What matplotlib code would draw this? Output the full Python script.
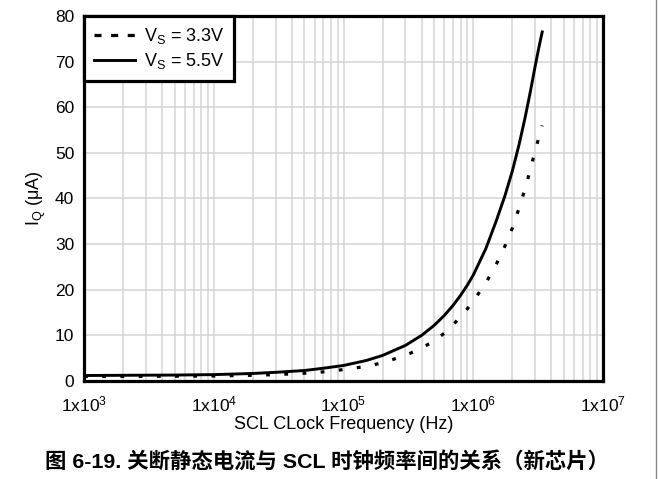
#!/usr/bin/env python3
"""Quiescent current vs SCL clock frequency (Fig 6-19)."""
import matplotlib
matplotlib.use("Agg")
import matplotlib.pyplot as plt
import matplotlib.ticker as ticker
from matplotlib.lines import Line2D

plt.rcParams["font.family"] = ["Liberation Sans", "Noto Sans CJK SC"]
plt.rcParams["mathtext.fontset"] = "custom"
plt.rcParams["mathtext.rm"] = "Liberation Sans"
plt.rcParams["mathtext.it"] = "Liberation Sans:italic"

# values
freq_hz = [1e3, 2e3, 5e3, 1e4, 2e4, 3e4, 5e4, 7e4, 1e5, 1.5e5, 2e5,
           3e5, 4e5, 5e5, 6e5, 7e5, 8e5, 9e5, 1e6, 1.25e6, 1.5e6,
           1.75e6, 2e6, 2.25e6, 2.5e6, 2.75e6, 3e6, 3.2e6, 3.4e6]
iq_5v5 = [1.2, 1.25, 1.3, 1.4, 1.65, 1.9, 2.3, 2.8, 3.4, 4.5, 5.6,
          7.8, 10.0, 12.2, 14.4, 16.6, 18.8, 21.0, 23.2, 29.0, 35.0,
          40.5, 46.0, 51.7, 57.5, 63.3, 69.0, 73.0, 76.5]
iq_3v3 = [1.0, 1.0, 1.05, 1.1, 1.25, 1.4, 1.7, 2.0, 2.5, 3.2, 4.0,
          5.6, 7.2, 8.8, 10.5, 12.3, 14.2, 15.8, 17.5, 21.5, 25.5,
          29.5, 33.5, 37.8, 42.0, 46.2, 50.5, 53.3, 56.0]

x_ticks = [1e3, 1e4, 1e5, 1e6, 1e7]
x_tick_labels = [r"1x10$^{3}$", r"1x10$^{4}$", r"1x10$^{5}$",
                 r"1x10$^{6}$", r"1x10$^{7}$"]
y_ticks = list(range(0, 81, 10))

label_3v3 = r"V$_{\mathrm{S}}$ = 3.3V"
label_5v5 = r"V$_{\mathrm{S}}$ = 5.5V"
caption = "图 6-19. 关断静态电流与 SCL 时钟频率间的关系（新芯片）"

fig = plt.figure(figsize=(6.58, 4.79), dpi=100)
ax = fig.add_axes([0.1277, 0.2046, 0.7887, 0.762])

grid_kw = dict(color="#d4d4d4", linewidth=1.1)
ax.plot(freq_hz, iq_3v3, color="black", linewidth=2.3,
        linestyle=(0, (1.2, 4.5)), zorder=3)
ax.plot(freq_hz, iq_5v5, color="black", linewidth=2.1, zorder=3)

ax.set_xscale("log")
ax.set_xlim(1e3, 1e7)
ax.set_ylim(0, 80)
ax.set_xticks(x_ticks)
ax.xaxis.set_major_formatter(ticker.FixedFormatter(x_tick_labels))
ax.xaxis.set_minor_locator(ticker.LogLocator(base=10, subs=range(2, 10)))
ax.xaxis.set_minor_formatter(ticker.NullFormatter())
ax.set_yticks(y_ticks)
ax.grid(True, which="major", **grid_kw)
ax.grid(True, which="minor", axis="x", **grid_kw)
ax.set_axisbelow(True)
ax.tick_params(which="both", length=0, labelsize=12.5)
ax.tick_params(axis="x", pad=9.5)
ax.tick_params(axis="y", pad=7)

for s in ax.spines.values():
    s.set_linewidth(2.3)
    s.set_zorder(4)

ax.set_xlabel("SCL CLock Frequency (Hz)", fontsize=13, labelpad=1.5)
ax.set_ylabel(r"I$_{\mathrm{Q}}$ ($\mathrm{\mu}$A)", fontsize=13, labelpad=5)

handles = [
    Line2D([], [], color="black", linewidth=2.3, linestyle=(0, (2.2, 3.0))),
    Line2D([], [], color="black", linewidth=2.1),
]
leg = ax.legend(handles, [label_3v3, label_5v5], loc="upper left",
                bbox_to_anchor=(0, 1), borderaxespad=0, fancybox=False,
                framealpha=1, edgecolor="black", fontsize=13,
                handlelength=2.3, handletextpad=0.45, labelspacing=0.28,
                borderpad=0.55)
leg.get_frame().set_linewidth(2.3)
leg.set_zorder(5)

fig.text(0.497, 0.036, caption, ha="center", va="center",
         fontsize=15.4, fontweight="bold")
fig.add_artist(Line2D([0.997, 0.997], [0, 1], color="#8a8a8a",
                      linewidth=1.0, transform=fig.transFigure))

fig.savefig("out.png", dpi=100)
